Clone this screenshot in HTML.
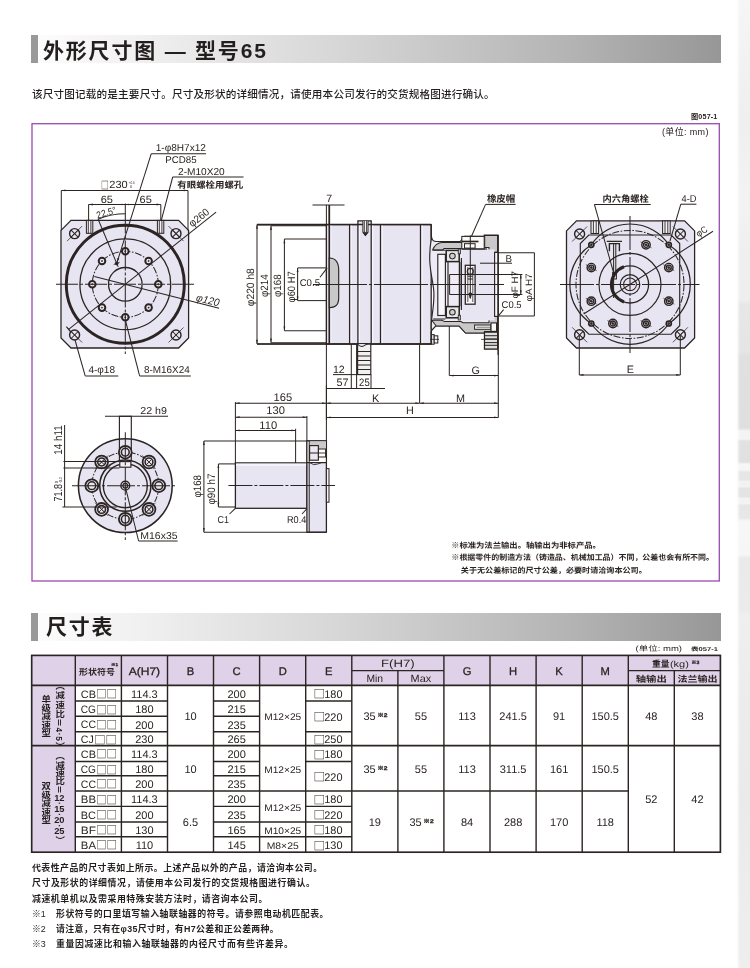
<!DOCTYPE html>
<html lang="zh-CN">
<head>
<meta charset="utf-8">
<title>外形尺寸图 — 型号65</title>
<style>
html,body{margin:0;padding:0;}
body{width:750px;height:968px;position:relative;overflow:hidden;background:#fff;
 font-family:"Liberation Sans","Noto Sans CJK SC",sans-serif;color:#2b2422;}
svg.dw{position:absolute;left:0;top:0;will-change:transform;}
.bar b,.sub,.cap1,.cap2,.ft,.vt{will-change:transform;}
svg.dw text.hv{stroke:#2b2422 !important;stroke-width:0.3px;}
svg.dw text{text-rendering:geometricPrecision;fill:#2b2422;stroke:none;font-family:"Liberation Sans","Noto Sans CJK SC",sans-serif;}
.bar{position:absolute;left:31px;width:690px;height:28px;
 background:linear-gradient(to right,#fdfdfd 0%,#f2f2f2 14%,#d6d6d6 45%,#b4b4b4 78%,#979797 100%);}
.bar i{position:absolute;left:0;top:0;width:7px;height:100%;background:#999;}
.bar b{position:absolute;left:11.6px;top:1.6px;line-height:28px;font-size:21px;font-weight:bold;color:#231f1e;white-space:nowrap;letter-spacing:1.8px;}
.strip{position:absolute;left:737px;top:0;width:13px;height:968px;background:linear-gradient(to right,rgba(255,255,255,0.85) 0,rgba(255,255,255,0) 3px),linear-gradient(to bottom,#f6f6f6 0px,#f2f2f2 60px,#efefef 120px,#f3f3f3 200px,#f0f0f0 240px,#eeeeee 300px,#e7e7e7 304px,#e5e5e5 352px,#e0e0e0 356px,#dfdfdf 428px,#f4f4f4 431px,#f4f4f4 439px,#e2e2e2 441px,#e0e0e0 462px,#f6f6f6 464px,#f6f6f6 470px,#e6e6e6 472px,#e6e6e6 480px,#f2f2f2 481px,#f2f2f2 487px,#e4e4e4 488px,#e4e4e4 497px,#f3f3f3 498px,#f3f3f3 504px,#e6e6e6 505px,#e8e8e8 518px,#f7f7f7 521px,#f6f6f6 555px,#eaeaea 558px,#ebebeb 610px,#efefef 614px,#ececec 700px,#eaeaea 800px,#ededed 900px,#eeeeee 968px);}
.frame{position:absolute;left:31.3px;top:123px;width:685.9px;height:455.9px;border:1.4px solid #a35cb7;box-sizing:content-box;}
.sub{position:absolute;font-size:10.6px;letter-spacing:0.17px;line-height:15px;font-weight:500;white-space:nowrap;color:#231f1e;}
.cap1{position:absolute;left:690.6px;top:111.7px;font-size:7.2px;letter-spacing:0.15px;line-height:10px;font-weight:bold;white-space:nowrap;}
.cap2{position:absolute;left:662.2px;top:125.6px;font-size:9px;letter-spacing:0.35px;line-height:12px;white-space:nowrap;}
.ft{position:absolute;left:32px;font-size:8.9px;line-height:14px;font-weight:bold;white-space:nowrap;color:#231f1e;}
.vt{position:absolute;width:12px;line-height:12px;writing-mode:vertical-rl;font-size:8.4px;font-weight:bold;transform:scaleX(1.12);transform-origin:50% 50%;white-space:nowrap;color:#231f1e;}
.vt span{text-combine-upright:all;-webkit-text-combine:horizontal;}
.ft .n{display:inline-block;width:24px;font-weight:500;letter-spacing:0;}
</style>
</head>
<body>
<div class="strip"></div>
<div class="bar" style="top:35px"><i></i><b>外形尺寸图 — 型号65</b></div>
<div class="bar" style="top:612.6px"><i></i><b style="left:14.6px;top:0.3px;letter-spacing:1.7px">尺寸表</b></div>
<div class="sub" style="left:31.6px;top:87px;">该尺寸图记载的是主要尺寸。尺寸及形状的详细情况，请使用本公司发行的交货规格图进行确认。</div>
<div class="cap1">图057-1</div>
<div class="cap2">(单位: mm)</div>
<div class="ft" style="top:861.2px;letter-spacing:0.5px">代表性产品的尺寸表如上所示。上述产品以外的产品，请洽询本公司。</div>
<div class="ft" style="top:876.4px;letter-spacing:0.57px">尺寸及形状的详细情况，请使用本公司发行的交货规格图进行确认。</div>
<div class="ft" style="top:891.6px;letter-spacing:0.56px">减速机单机以及需采用特殊安装方法时，请咨询本公司。</div>
<div class="ft" style="top:906.8px;letter-spacing:0.54px"><span class="n">※1</span>形状符号的口里填写输入轴联轴器的符号。请参照电动机匹配表。</div>
<div class="ft" style="top:922px;letter-spacing:0.35px"><span class="n">※2</span>请注意，只有在φ35尺寸时，有H7公差和正公差两种。</div>
<div class="ft" style="top:937.2px;letter-spacing:0.62px"><span class="n">※3</span>重量因减速比和输入轴联轴器的内径尺寸而有些许差异。</div>
<svg class="dw" width="750" height="968" viewBox="0 0 750 968" fill="none" stroke="#2b2422">
<rect x="32" y="123.7" width="687.3" height="457.3" fill="none" stroke="#9c50b3" stroke-width="1.35"/>
<path d="M71.0,220.4 L178.6,220.4 L188.6,230.4 L188.6,338.0 L178.6,348.0 L71.0,348.0 L61.0,338.0 L61.0,230.4 Z" stroke-width="1.28" fill="#e8e5f3" />
<circle cx="125.3" cy="284.3" r="59.0" stroke-width="2.94" fill="none" />
<circle cx="125.3" cy="284.3" r="45.4" stroke-width="1.28" fill="none" />
<circle cx="125.3" cy="284.3" r="33.0" stroke-width="1.02" fill="none" stroke-dasharray="7 1.6 1.6 1.6"/>
<circle cx="125.3" cy="284.3" r="16.8" stroke-width="1.28" fill="none" />
<circle cx="125.3" cy="251.3" r="3.3" stroke-width="1.98" fill="#f1eff8" />
<circle cx="125.3" cy="251.3" r="0.7" stroke-width="0.51" fill="#2b2422" />
<circle cx="102.0" cy="261.0" r="3.3" stroke-width="1.98" fill="#f1eff8" />
<circle cx="102.0" cy="261.0" r="0.7" stroke-width="0.51" fill="#2b2422" />
<circle cx="92.3" cy="284.3" r="3.3" stroke-width="1.98" fill="#f1eff8" />
<circle cx="92.3" cy="284.3" r="0.7" stroke-width="0.51" fill="#2b2422" />
<circle cx="102.0" cy="307.6" r="3.3" stroke-width="1.98" fill="#f1eff8" />
<circle cx="102.0" cy="307.6" r="0.7" stroke-width="0.51" fill="#2b2422" />
<circle cx="125.3" cy="317.3" r="3.3" stroke-width="1.98" fill="#f1eff8" />
<circle cx="125.3" cy="317.3" r="0.7" stroke-width="0.51" fill="#2b2422" />
<circle cx="148.6" cy="307.6" r="3.3" stroke-width="1.98" fill="#f1eff8" />
<circle cx="148.6" cy="307.6" r="0.7" stroke-width="0.51" fill="#2b2422" />
<circle cx="158.3" cy="284.3" r="3.3" stroke-width="1.98" fill="#f1eff8" />
<circle cx="158.3" cy="284.3" r="0.7" stroke-width="0.51" fill="#2b2422" />
<circle cx="148.6" cy="261.0" r="3.3" stroke-width="1.98" fill="#f1eff8" />
<circle cx="148.6" cy="261.0" r="0.7" stroke-width="0.51" fill="#2b2422" />
<circle cx="116.7" cy="263.4" r="1.5" stroke-width="0.77" fill="#2b2422" />
<line x1="113.7" y1="264.6" x2="119.7" y2="262.2" stroke-width="0.77" />
<circle cx="74.6" cy="233.6" r="5.0" stroke-width="1.41" fill="#e8e5f3" />
<line x1="71.1" y1="230.1" x2="78.1" y2="237.1" stroke-width="1.02" />
<line x1="71.1" y1="237.1" x2="78.1" y2="230.1" stroke-width="1.02" />
<line x1="67.1" y1="241.1" x2="82.1" y2="226.1" stroke-width="0.77" />
<circle cx="74.6" cy="335.0" r="5.0" stroke-width="1.41" fill="#e8e5f3" />
<line x1="71.1" y1="331.5" x2="78.1" y2="338.5" stroke-width="1.02" />
<line x1="71.1" y1="338.5" x2="78.1" y2="331.5" stroke-width="1.02" />
<line x1="67.1" y1="327.5" x2="82.1" y2="342.5" stroke-width="0.77" />
<circle cx="176.0" cy="233.6" r="5.0" stroke-width="1.41" fill="#e8e5f3" />
<line x1="172.5" y1="230.1" x2="179.5" y2="237.1" stroke-width="1.02" />
<line x1="172.5" y1="237.1" x2="179.5" y2="230.1" stroke-width="1.02" />
<line x1="168.5" y1="226.1" x2="183.5" y2="241.1" stroke-width="0.77" />
<circle cx="176.0" cy="335.0" r="5.0" stroke-width="1.41" fill="#e8e5f3" />
<line x1="172.5" y1="331.5" x2="179.5" y2="338.5" stroke-width="1.02" />
<line x1="172.5" y1="338.5" x2="179.5" y2="331.5" stroke-width="1.02" />
<line x1="168.5" y1="342.5" x2="183.5" y2="327.5" stroke-width="0.77" />
<rect x="86.4" y="220.4" width="6.4" height="12.9" stroke-width="1.02" fill="#f4f2f8" />
<line x1="88.3" y1="220.4" x2="88.3" y2="233.3" stroke-width="0.9" />
<line x1="90.9" y1="220.4" x2="90.9" y2="233.3" stroke-width="0.9" />
<rect x="157.4" y="220.4" width="6.4" height="12.9" stroke-width="1.02" fill="#f4f2f8" />
<line x1="159.3" y1="220.4" x2="159.3" y2="233.3" stroke-width="0.9" />
<line x1="161.9" y1="220.4" x2="161.9" y2="233.3" stroke-width="0.9" />
<line x1="56.0" y1="284.3" x2="195.0" y2="284.3" stroke-width="1.02" stroke-dasharray="22 2 3 2"/>
<line x1="125.3" y1="203.5" x2="125.3" y2="354.0" stroke-width="1.02" stroke-dasharray="30 2 3 2"/>
<line x1="61.3" y1="190.4" x2="61.3" y2="230.4" stroke-width="1.02" />
<line x1="188.0" y1="190.4" x2="188.0" y2="230.4" stroke-width="1.02" />
<line x1="61.3" y1="190.4" x2="188.0" y2="190.4" stroke-width="1.02" />
<polygon points="61.3,190.4 65.5,189.5 65.5,191.3" fill="#2b2422" stroke="none"/>
<polygon points="188.0,190.4 183.8,191.3 183.8,189.5" fill="#2b2422" stroke="none"/>
<text x="101.0" y="188.8" font-size="10.6" textLength="7.8" lengthAdjust="spacingAndGlyphs" style="font-family:'Noto Sans CJK SC',sans-serif">□</text>
<text x="109.3" y="188.4" font-size="10.5" textLength="18.4" lengthAdjust="spacingAndGlyphs" >230</text>
<text x="128.8" y="184.0" font-size="4" textLength="6.0" lengthAdjust="spacingAndGlyphs" >+0.5</text>
<text x="130.0" y="188.4" font-size="4" >0</text>
<line x1="88.6" y1="204.5" x2="88.6" y2="220.4" stroke-width="1.02" />
<line x1="160.8" y1="204.5" x2="160.8" y2="220.4" stroke-width="1.02" />
<line x1="88.6" y1="204.5" x2="160.8" y2="204.5" stroke-width="1.02" />
<polygon points="88.6,204.5 92.8,203.6 92.8,205.4" fill="#2b2422" stroke="none"/>
<polygon points="160.8,204.5 156.6,205.4 156.6,203.6" fill="#2b2422" stroke="none"/>
<polygon points="125.3,204.5 121.8,205.3 121.8,203.7" fill="#2b2422" stroke="none"/>
<polygon points="125.3,204.5 128.8,203.7 128.8,205.3" fill="#2b2422" stroke="none"/>
<text x="100.7" y="202.6" font-size="10.5" textLength="12.2" lengthAdjust="spacingAndGlyphs" >65</text>
<text x="139.6" y="202.6" font-size="10.5" textLength="12.2" lengthAdjust="spacingAndGlyphs" >65</text>
<line x1="98.0" y1="219.0" x2="118.2" y2="266.9" stroke-width="1.02" />
<path d="M98.0,219.2 A70.6,70.6 0 0 1 125.3,213.7" stroke-width="1.02" fill="none" />
<text x="97.6" y="218.4" font-size="9.5" textLength="20.0" lengthAdjust="spacingAndGlyphs" transform="rotate(-16 97.6 218.4)" >22.5°</text>
<line x1="151.3" y1="153.7" x2="206.0" y2="153.7" stroke-width="1.02" />
<line x1="151.3" y1="153.7" x2="117.1" y2="262.2" stroke-width="1.02" />
<polygon points="117.0,262.6 117.4,258.0 119.3,258.6" fill="#2b2422" stroke="none"/>
<text x="155.7" y="151.0" font-size="10" textLength="50.3" lengthAdjust="spacingAndGlyphs" >1-φ8H7x12</text>
<text x="165.3" y="162.8" font-size="9.8" textLength="31.4" lengthAdjust="spacingAndGlyphs" >PCD85</text>
<line x1="172.7" y1="177.0" x2="243.5" y2="177.0" stroke-width="1.02" />
<line x1="172.7" y1="177.0" x2="161.3" y2="220.4" stroke-width="1.02" />
<text x="178.0" y="174.8" font-size="10" textLength="46.7" lengthAdjust="spacingAndGlyphs" >2-M10X20</text>
<text x="177.3" y="187.6" font-size="9" textLength="66.0" lengthAdjust="spacingAndGlyphs" font-weight="bold" >有眼螺栓用螺孔</text>
<line x1="68.6" y1="329.4" x2="216.1" y2="212.1" stroke-width="1.02" />
<line x1="66.4" y1="326.6" x2="70.8" y2="332.2" stroke-width="1.02" />
<text x="192.2" y="227.6" font-size="10.6" textLength="23.0" lengthAdjust="spacingAndGlyphs" transform="rotate(-38.5 192.2 227.6)" >φ260</text>
<line x1="94.3" y1="276.4" x2="219.1" y2="308.2" stroke-width="1.02" />
<text x="195.6" y="300.8" font-size="10.6" textLength="23.5" lengthAdjust="spacingAndGlyphs" transform="rotate(14 195.6 300.8)" font-style="italic">φ120</text>
<line x1="75.0" y1="340.0" x2="85.2" y2="375.9" stroke-width="1.02" />
<line x1="85.2" y1="375.9" x2="118.3" y2="375.9" stroke-width="1.02" />
<text x="88.4" y="373.4" font-size="10" textLength="26.6" lengthAdjust="spacingAndGlyphs" >4-φ18</text>
<line x1="125.6" y1="321.0" x2="139.6" y2="375.9" stroke-width="1.02" />
<line x1="139.6" y1="375.9" x2="190.8" y2="375.9" stroke-width="1.02" />
<text x="143.9" y="373.4" font-size="10" textLength="45.8" lengthAdjust="spacingAndGlyphs" >8-M16X24</text>
<line x1="257.0" y1="224.6" x2="326.4" y2="224.6" stroke-width="1.15" />
<line x1="257.0" y1="344.0" x2="326.4" y2="344.0" stroke-width="1.15" />
<line x1="257.0" y1="224.6" x2="257.0" y2="344.0" stroke-width="1.02" />
<polygon points="257.0,224.6 257.9,228.8 256.1,228.8" fill="#2b2422" stroke="none"/>
<polygon points="257.0,344.0 256.1,339.8 257.9,339.8" fill="#2b2422" stroke="none"/>
<line x1="271.0" y1="225.8" x2="326.4" y2="225.8" stroke-width="1.02" />
<line x1="271.0" y1="342.8" x2="326.4" y2="342.8" stroke-width="1.02" />
<line x1="271.0" y1="225.8" x2="271.0" y2="342.8" stroke-width="1.02" />
<polygon points="271.0,225.8 271.9,230.0 270.1,230.0" fill="#2b2422" stroke="none"/>
<polygon points="271.0,342.8 270.1,338.6 271.9,338.6" fill="#2b2422" stroke="none"/>
<line x1="284.4" y1="239.0" x2="326.4" y2="239.0" stroke-width="1.02" />
<line x1="284.4" y1="330.8" x2="326.4" y2="330.8" stroke-width="1.02" />
<line x1="284.4" y1="239.0" x2="284.4" y2="330.8" stroke-width="1.02" />
<polygon points="284.4,239.0 285.3,243.2 283.5,243.2" fill="#2b2422" stroke="none"/>
<polygon points="284.4,330.8 283.5,326.6 285.3,326.6" fill="#2b2422" stroke="none"/>
<line x1="297.6" y1="267.9" x2="326.4" y2="267.9" stroke-width="1.02" />
<line x1="297.6" y1="300.6" x2="326.4" y2="300.6" stroke-width="1.02" />
<line x1="297.6" y1="267.9" x2="297.6" y2="300.6" stroke-width="1.02" />
<polygon points="297.6,267.9 298.5,272.1 296.7,272.1" fill="#2b2422" stroke="none"/>
<polygon points="297.6,300.6 296.7,296.4 298.5,296.4" fill="#2b2422" stroke="none"/>
<line x1="257.0" y1="224.6" x2="326.4" y2="224.6" stroke-width="1.66" />
<line x1="257.0" y1="344.0" x2="326.4" y2="344.0" stroke-width="1.66" />
<text x="253.6" y="306.2" font-size="10.6" textLength="38.0" lengthAdjust="spacingAndGlyphs" transform="rotate(-90 253.6 306.2)" >φ220 h8</text>
<text x="267.6" y="297.0" font-size="10.6" textLength="22.6" lengthAdjust="spacingAndGlyphs" transform="rotate(-90 267.6 297.0)" >φ214</text>
<text x="281.4" y="297.0" font-size="10.6" textLength="22.6" lengthAdjust="spacingAndGlyphs" transform="rotate(-90 281.4 297.0)" >φ168</text>
<text x="294.8" y="302.4" font-size="10.6" textLength="31.0" lengthAdjust="spacingAndGlyphs" transform="rotate(-90 294.8 302.4)" >φ60 H7</text>
<path d="M326.4,224.6 L357.9,224.6 L357.9,220.9 L371.2,220.9 L371.2,224.6 L431.2,224.6 L431.2,344.0 L326.4,344.0 Z" stroke-width="1.28" fill="#e8e5f3" />
<rect x="329.9" y="225.2" width="1.6" height="118.2" fill="#f6f4fb" stroke="none"/>
<rect x="350.2" y="225.2" width="1.6" height="118.2" fill="#f6f4fb" stroke="none"/>
<rect x="358.5" y="225.2" width="1.6" height="118.2" fill="#f6f4fb" stroke="none"/>
<rect x="371.8" y="225.2" width="1.6" height="118.2" fill="#f6f4fb" stroke="none"/>
<rect x="381.1" y="225.2" width="1.6" height="118.2" fill="#f6f4fb" stroke="none"/>
<rect x="421.1" y="225.2" width="1.6" height="118.2" fill="#f6f4fb" stroke="none"/>
<line x1="326.4" y1="205.0" x2="326.4" y2="420.0" stroke-width="1.02" />
<line x1="329.3" y1="205.0" x2="329.3" y2="344.0" stroke-width="1.66" />
<line x1="349.6" y1="224.6" x2="349.6" y2="344.0" stroke-width="1.28" />
<line x1="357.9" y1="224.6" x2="357.9" y2="344.0" stroke-width="1.28" />
<line x1="371.2" y1="224.6" x2="371.2" y2="344.0" stroke-width="1.28" />
<line x1="380.5" y1="224.6" x2="380.5" y2="344.0" stroke-width="1.28" />
<line x1="420.5" y1="224.6" x2="420.5" y2="344.0" stroke-width="1.28" />
<line x1="431.2" y1="224.6" x2="431.2" y2="238.0" stroke-width="1.28" />
<line x1="431.2" y1="331.0" x2="431.2" y2="344.0" stroke-width="1.28" />
<line x1="326.4" y1="224.6" x2="431.2" y2="224.6" stroke-width="1.54" />
<line x1="326.4" y1="344.0" x2="431.2" y2="344.0" stroke-width="1.54" />
<path d="M362.9,220.9 L362.9,232.4 L365.4,235.4 L368,232.4 L368,220.9" stroke-width="1.02" fill="#f4f2f8" />
<line x1="364.4" y1="220.9" x2="364.4" y2="232.4" stroke-width="0.77" />
<line x1="366.5" y1="220.9" x2="366.5" y2="232.4" stroke-width="0.77" />
<path d="M363.4,232.4 L365.4,235.6 L367.5,232.4 Z" stroke-width="0.77" fill="#2b2422" />
<path d="M329.3,258.0 C336.5,258.2 338.9,263 338.7,271 L338.7,297 C338.9,304 336.5,307.4 329.3,307.6 Z" stroke-width="1.15" fill="#c9c9c9" />
<text x="299.7" y="286.2" font-size="9.8" textLength="20.3" lengthAdjust="spacingAndGlyphs" >C0.5</text>
<line x1="320.0" y1="277.2" x2="327.2" y2="267.9" stroke-width="1.02" />
<line x1="312.5" y1="205.0" x2="344.5" y2="205.0" stroke-width="1.02" />
<line x1="329.3" y1="205.0" x2="329.3" y2="224.6" stroke-width="1.02" />
<text x="329.2" y="202.2" font-size="10.6" text-anchor="middle" >7</text>
<line x1="313.0" y1="284.5" x2="432.0" y2="284.5" stroke-width="1.02" stroke-dasharray="54 2 3 2"/>
<rect x="357.6" y="344.0" width="13.2" height="30.6" stroke-width="1.15" fill="#f1f1f1" />
<path d="M357.6,344.0 q3,4 6.6,1.6 q3,-2.4 6.6,-1.6" stroke-width="1.02" fill="#e8e5f3" />
<line x1="357.6" y1="351.5" x2="370.8" y2="351.5" stroke-width="1.02" />
<line x1="357.6" y1="356.0" x2="370.8" y2="356.0" stroke-width="1.02" />
<line x1="357.6" y1="360.5" x2="370.8" y2="360.5" stroke-width="1.02" />
<line x1="357.6" y1="365.0" x2="370.8" y2="365.0" stroke-width="1.02" />
<line x1="357.6" y1="369.5" x2="370.8" y2="369.5" stroke-width="1.02" />
<line x1="351.3" y1="344.0" x2="351.3" y2="388.4" stroke-width="1.02" />
<line x1="356.6" y1="344.0" x2="356.6" y2="388.4" stroke-width="1.02" />
<line x1="371.0" y1="374.6" x2="371.0" y2="388.4" stroke-width="1.02" />
<line x1="333.0" y1="374.6" x2="357.2" y2="374.6" stroke-width="1.02" />
<text x="338.8" y="373.0" font-size="10.6" text-anchor="middle" >12</text>
<line x1="326.4" y1="388.4" x2="385.0" y2="388.4" stroke-width="1.02" />
<text x="342.4" y="386.4" font-size="10.8" text-anchor="middle" >57</text>
<text x="364.4" y="386.2" font-size="10.8" textLength="10.6" lengthAdjust="spacingAndGlyphs" text-anchor="middle" >25</text>
<line x1="419.6" y1="344.0" x2="419.6" y2="403.0" stroke-width="1.02" />
<line x1="498.3" y1="350.0" x2="498.3" y2="417.4" stroke-width="1.02" />
<line x1="235.4" y1="403.2" x2="326.4" y2="403.2" stroke-width="1.02" />
<polygon points="235.4,403.2 239.6,402.3 239.6,404.1" fill="#2b2422" stroke="none"/>
<polygon points="326.4,403.2 322.2,404.1 322.2,402.3" fill="#2b2422" stroke="none"/>
<line x1="326.4" y1="403.2" x2="419.6" y2="403.2" stroke-width="1.02" />
<polygon points="326.4,403.2 330.6,402.3 330.6,404.1" fill="#2b2422" stroke="none"/>
<polygon points="419.6,403.2 415.4,404.1 415.4,402.3" fill="#2b2422" stroke="none"/>
<line x1="419.6" y1="403.2" x2="498.3" y2="403.2" stroke-width="1.02" />
<polygon points="419.6,403.2 423.8,402.3 423.8,404.1" fill="#2b2422" stroke="none"/>
<polygon points="498.3,403.2 494.1,404.1 494.1,402.3" fill="#2b2422" stroke="none"/>
<line x1="326.4" y1="417.4" x2="498.3" y2="417.4" stroke-width="1.02" />
<polygon points="326.4,417.4 330.6,416.5 330.6,418.3" fill="#2b2422" stroke="none"/>
<polygon points="498.3,417.4 494.1,418.3 494.1,416.5" fill="#2b2422" stroke="none"/>
<text x="375.6" y="401.5" font-size="10.8" text-anchor="middle" >K</text>
<text x="460.5" y="401.5" font-size="10.8" text-anchor="middle" >M</text>
<text x="410.0" y="414.4" font-size="10.8" text-anchor="middle" >H</text>
<line x1="449.3" y1="262.0" x2="449.3" y2="375.6" stroke-width="1.02" />
<line x1="449.3" y1="375.6" x2="498.3" y2="375.6" stroke-width="1.02" />
<polygon points="449.3,375.6 453.5,374.7 453.5,376.5" fill="#2b2422" stroke="none"/>
<polygon points="498.3,375.6 494.1,376.5 494.1,374.7" fill="#2b2422" stroke="none"/>
<text x="475.6" y="373.8" font-size="10.8" text-anchor="middle" >G</text>
<path d="M431.6,237 Q432,241.5 436.5,241.5 L460.2,241.5 L464.5,236.2 L484.2,236.2 L484.2,235.1 L498.1,235.1 L498.1,349 L484.5,349 L484.5,333 L465.5,333 L459.1,326 L435.7,326 L431.6,330.5 C429.5,322 435.5,305 433.6,289 C432,275 427,262 431.6,237 Z" stroke-width="1.15" fill="#eeebf6" />
<path d="M432.6,250 Q435.5,243.2 441.5,242.6 L462.3,242.6 L462.3,248.6 L444,248.6 L442.5,250 Z" stroke-width="1.02" fill="#c9c9c9" />
<path d="M484.7,235.6 L497.6,235.6 L497.6,252.2 L489.0,252.2 L489.0,247.4 L484.7,247.4 Z" stroke-width="1.02" fill="#c9c9c9" />
<rect x="477.3" y="243.7" width="6.6" height="4.6" stroke-width="0.9" fill="#c9c9c9" />
<path d="M431.8,320.2 L442,320.2 L444.6,321.6 L461,321.6 L463,322.8 L489,322.8 L489,316.5 L497.6,316.5 L497.6,331.6 L484.4,331.6 L484.4,333 L465.5,333 L459.1,326 L436.2,326 Z" stroke-width="1.02" fill="#c9c9c9" />
<rect x="461.8" y="249.4" width="32.8" height="71.0" stroke-width="0.0" fill="#e8e5f3" stroke="none"/>
<rect x="494.6" y="252.4" width="3.5" height="64.0" stroke-width="1.15" fill="#f7f6fa" />
<rect x="461.8" y="236.4" width="22.4" height="12.6" stroke-width="1.02" fill="#fafafa" />
<line x1="461.8" y1="241.5" x2="478.5" y2="241.5" stroke-width="1.66" />
<rect x="464.5" y="243.7" width="10.6" height="4.4" stroke-width="1.02" fill="#fff" />
<line x1="461.8" y1="249.0" x2="487.0" y2="249.0" stroke-width="1.15" />
<rect x="437.8" y="254.3" width="7.6" height="61.2" stroke-width="1.15" fill="#f6f5fa" />
<line x1="433.2" y1="250.2" x2="445.4" y2="250.2" stroke-width="1.02" />
<line x1="433.2" y1="319.0" x2="445.4" y2="319.0" stroke-width="1.02" />
<rect x="446.2" y="250.4" width="13.0" height="11.2" stroke-width="1.54" fill="#e8e8e8" />
<circle cx="452.4" cy="256.1" r="2.8" stroke-width="1.02" fill="#cfcfcf" />
<rect x="446.2" y="306.6" width="13.0" height="11.2" stroke-width="1.54" fill="#e8e8e8" />
<circle cx="452.4" cy="312.3" r="2.8" stroke-width="1.02" fill="#cfcfcf" />
<rect x="458.2" y="249.0" width="2.2" height="4.8" stroke-width="0.77" fill="#bbb" />
<rect x="458.2" y="315.2" width="2.2" height="4.8" stroke-width="0.77" fill="#bbb" />
<line x1="448.0" y1="261.8" x2="448.0" y2="306.4" stroke-width="1.15" />
<line x1="459.6" y1="261.8" x2="459.6" y2="306.4" stroke-width="1.66" />
<line x1="461.4" y1="258.0" x2="461.4" y2="310.0" stroke-width="1.15" />
<rect x="465.3" y="265.3" width="9.8" height="38.9" stroke-width="1.28" fill="#f6f5fa" />
<line x1="467.8" y1="267.0" x2="467.8" y2="302.0" stroke-width="0.77" />
<line x1="472.8" y1="267.0" x2="472.8" y2="302.0" stroke-width="0.77" />
<circle cx="470.3" cy="271.4" r="3.0" stroke-width="1.15" fill="none" />
<line x1="467.8" y1="276.2" x2="472.8" y2="276.2" stroke-width="1.02" />
<line x1="467.8" y1="279.0" x2="472.8" y2="279.0" stroke-width="1.02" />
<path d="M469.0,293.6 L471.6,293.6 L470.3,298.4 Z" stroke-width="0.9" fill="#2b2422" />
<circle cx="470.3" cy="294.0" r="1.3" stroke-width="0.64" fill="#2b2422" />
<line x1="470.3" y1="235.4" x2="470.3" y2="298.0" stroke-width="1.02" />
<line x1="431.5" y1="284.5" x2="476.0" y2="284.5" stroke-width="1.02" />
<line x1="479.0" y1="284.5" x2="504.0" y2="284.5" stroke-width="1.02" />
<line x1="449.6" y1="274.4" x2="522.4" y2="274.4" stroke-width="1.02" />
<line x1="449.6" y1="294.4" x2="522.4" y2="294.4" stroke-width="1.02" />
<line x1="449.6" y1="274.4" x2="449.6" y2="294.4" stroke-width="1.02" />
<line x1="520.8" y1="274.4" x2="520.8" y2="294.4" stroke-width="1.02" />
<polygon points="520.8,274.4 521.7,278.6 519.9,278.6" fill="#2b2422" stroke="none"/>
<polygon points="520.8,294.4 519.9,290.2 521.7,290.2" fill="#2b2422" stroke="none"/>
<line x1="498.4" y1="252.8" x2="534.4" y2="252.8" stroke-width="1.02" />
<line x1="498.4" y1="316.0" x2="534.4" y2="316.0" stroke-width="1.02" />
<line x1="534.4" y1="252.8" x2="534.4" y2="316.0" stroke-width="1.02" />
<line x1="480.0" y1="263.2" x2="512.0" y2="263.2" stroke-width="1.02" />
<text x="508.8" y="261.6" font-size="9.8" text-anchor="middle" >B</text>
<text x="518.4" y="298.6" font-size="9.3" textLength="27.5" lengthAdjust="spacingAndGlyphs" transform="rotate(-90 518.4 298.6)" >φF H7</text>
<text x="531.8" y="301.4" font-size="9.3" textLength="28.0" lengthAdjust="spacingAndGlyphs" transform="rotate(-90 531.8 301.4)" >φA H7</text>
<text x="501.6" y="308.0" font-size="9.8" textLength="20.0" lengthAdjust="spacingAndGlyphs" >C0.5</text>
<line x1="498.6" y1="315.6" x2="503.6" y2="309.6" stroke-width="1.02" />
<rect x="474.6" y="325.0" width="16.4" height="4.3" stroke-width="1.02" fill="#fafafa" />
<rect x="491.0" y="322.9" width="5.6" height="8.5" stroke-width="1.15" fill="#fafafa" />
<line x1="476.5" y1="327.2" x2="491.0" y2="327.2" stroke-width="0.64" />
<rect x="484.5" y="332.2" width="13.1" height="16.8" stroke-width="1.15" fill="#e0e0e0" />
<line x1="484.5" y1="335.7" x2="497.6" y2="335.7" stroke-width="1.02" />
<line x1="484.5" y1="338.9" x2="497.6" y2="338.9" stroke-width="1.02" />
<line x1="484.5" y1="342.6" x2="497.6" y2="342.6" stroke-width="1.02" />
<line x1="484.5" y1="345.3" x2="497.6" y2="345.3" stroke-width="1.02" />
<line x1="481.0" y1="339.4" x2="498.8" y2="339.4" stroke-width="0.77" />
<line x1="498.1" y1="235.1" x2="498.1" y2="355.0" stroke-width="1.15" />
<rect x="431.6" y="334.6" width="2.6" height="9.6" stroke-width="1.02" fill="#f4f4f4" />
<rect x="434.2" y="335.8" width="3.6" height="7.2" stroke-width="1.02" fill="#f4f4f4" />
<line x1="430.0" y1="339.4" x2="439.0" y2="339.4" stroke-width="0.77" />
<line x1="471.6" y1="236.0" x2="485.6" y2="204.4" stroke-width="1.02" />
<line x1="485.6" y1="204.4" x2="515.6" y2="204.4" stroke-width="1.02" />
<text x="486.9" y="202.0" font-size="9.3" textLength="28.4" lengthAdjust="spacingAndGlyphs" font-weight="bold" >橡皮帽</text>
<path d="M576.5,220.9 L684.6,220.9 L694.6,230.9 L694.6,338.0 L684.6,348.0 L576.5,348.0 L566.5,338.0 L566.5,230.9 Z" stroke-width="1.28" fill="#e8e5f3" />
<path d="M588.8,235.0 L671.2,235.0 L679.7,243.5 L679.7,325.7 L671.2,334.2 L588.8,334.2 L580.3,325.7 L580.3,243.5 Z" stroke-width="1.15" fill="#e8e5f3" />
<path d="M591.3,244.8 A46.5,46.5 0 0 1 668.8,244.8 A46.8,46.8 0 0 1 668.8,323.5 A46.5,46.5 0 0 1 591.3,323.5 A46.8,46.8 0 0 1 591.3,244.8" stroke-width="1.22" fill="none" />
<circle cx="630.0" cy="284.4" r="54.0" stroke-width="1.02" fill="none" stroke-dasharray="7 1.6 1.6 1.6"/>
<circle cx="630.0" cy="284.4" r="31.0" stroke-width="1.15" fill="none" />
<circle cx="630.0" cy="284.4" r="18.6" stroke-width="1.28" fill="none" />
<path d="M624.0,266.79999999999995 A18.6,18.6 0 0 0 624.0,302.0" stroke-width="3.07" fill="none" />
<circle cx="630.0" cy="284.4" r="9.8" stroke-width="1.15" fill="none" />
<circle cx="630.0" cy="284.4" r="6.4" stroke-width="1.02" fill="none" />
<circle cx="579.6" cy="234.0" r="5.0" stroke-width="1.41" fill="#e8e5f3" />
<line x1="576.1" y1="230.5" x2="583.1" y2="237.5" stroke-width="1.02" />
<line x1="576.1" y1="237.5" x2="583.1" y2="230.5" stroke-width="1.02" />
<line x1="572.1" y1="241.5" x2="587.1" y2="226.5" stroke-width="0.77" />
<circle cx="579.6" cy="334.8" r="5.0" stroke-width="1.41" fill="#e8e5f3" />
<line x1="576.1" y1="331.3" x2="583.1" y2="338.3" stroke-width="1.02" />
<line x1="576.1" y1="338.3" x2="583.1" y2="331.3" stroke-width="1.02" />
<line x1="572.1" y1="327.3" x2="587.1" y2="342.3" stroke-width="0.77" />
<circle cx="680.4" cy="234.0" r="5.0" stroke-width="1.41" fill="#e8e5f3" />
<line x1="676.9" y1="230.5" x2="683.9" y2="237.5" stroke-width="1.02" />
<line x1="676.9" y1="237.5" x2="683.9" y2="230.5" stroke-width="1.02" />
<line x1="672.9" y1="226.5" x2="687.9" y2="241.5" stroke-width="0.77" />
<circle cx="680.4" cy="334.8" r="5.0" stroke-width="1.41" fill="#e8e5f3" />
<line x1="676.9" y1="331.3" x2="683.9" y2="338.3" stroke-width="1.02" />
<line x1="676.9" y1="338.3" x2="683.9" y2="331.3" stroke-width="1.02" />
<line x1="672.9" y1="342.3" x2="687.9" y2="327.3" stroke-width="0.77" />
<rect x="591.0" y="220.9" width="7.6" height="12.6" stroke-width="1.02" fill="#f4f2f8" />
<line x1="593.4" y1="220.9" x2="593.4" y2="233.5" stroke-width="0.9" />
<line x1="596.2" y1="220.9" x2="596.2" y2="233.5" stroke-width="0.9" />
<rect x="662.6" y="220.9" width="7.6" height="12.6" stroke-width="1.02" fill="#f4f2f8" />
<line x1="665.0" y1="220.9" x2="665.0" y2="233.5" stroke-width="0.9" />
<line x1="667.8" y1="220.9" x2="667.8" y2="233.5" stroke-width="0.9" />
<circle cx="591.3" cy="244.8" r="2.6" stroke-width="1.54" fill="#aaa" />
<circle cx="591.3" cy="244.8" r="1.0" stroke-width="0.64" fill="#2b2422" />
<circle cx="591.3" cy="267.6" r="4.2" stroke-width="1.41" fill="#e8e5f3" />
<circle cx="591.3" cy="267.6" r="2.5" stroke-width="1.28" fill="none" />
<circle cx="591.3" cy="267.6" r="1.0" stroke-width="0.77" fill="#2b2422" />
<line x1="585.8" y1="264.6" x2="596.8" y2="270.6" stroke-width="0.64" />
<circle cx="591.3" cy="301.2" r="4.2" stroke-width="1.41" fill="#e8e5f3" />
<circle cx="591.3" cy="301.2" r="2.5" stroke-width="1.28" fill="none" />
<circle cx="591.3" cy="301.2" r="1.0" stroke-width="0.77" fill="#2b2422" />
<line x1="585.8" y1="298.2" x2="596.8" y2="304.2" stroke-width="0.64" />
<circle cx="591.3" cy="323.5" r="2.6" stroke-width="1.54" fill="#aaa" />
<circle cx="591.3" cy="323.5" r="1.0" stroke-width="0.64" fill="#2b2422" />
<circle cx="612.9" cy="323.5" r="4.2" stroke-width="1.41" fill="#e8e5f3" />
<circle cx="612.9" cy="323.5" r="2.5" stroke-width="1.28" fill="none" />
<circle cx="612.9" cy="323.5" r="1.0" stroke-width="0.77" fill="#2b2422" />
<line x1="607.4" y1="320.5" x2="618.4" y2="326.5" stroke-width="0.64" />
<circle cx="646.0" cy="244.8" r="4.2" stroke-width="1.41" fill="#e8e5f3" />
<circle cx="646.0" cy="244.8" r="2.5" stroke-width="1.28" fill="none" />
<circle cx="646.0" cy="244.8" r="1.0" stroke-width="0.77" fill="#2b2422" />
<line x1="640.5" y1="241.8" x2="651.5" y2="247.8" stroke-width="0.64" />
<circle cx="646.0" cy="323.5" r="4.2" stroke-width="1.41" fill="#e8e5f3" />
<circle cx="646.0" cy="323.5" r="2.5" stroke-width="1.28" fill="none" />
<circle cx="646.0" cy="323.5" r="1.0" stroke-width="0.77" fill="#2b2422" />
<line x1="640.5" y1="320.5" x2="651.5" y2="326.5" stroke-width="0.64" />
<circle cx="668.8" cy="244.8" r="2.6" stroke-width="1.54" fill="#aaa" />
<circle cx="668.8" cy="244.8" r="1.0" stroke-width="0.64" fill="#2b2422" />
<circle cx="668.8" cy="267.6" r="4.2" stroke-width="1.41" fill="#e8e5f3" />
<circle cx="668.8" cy="267.6" r="2.5" stroke-width="1.28" fill="none" />
<circle cx="668.8" cy="267.6" r="1.0" stroke-width="0.77" fill="#2b2422" />
<line x1="663.3" y1="264.6" x2="674.3" y2="270.6" stroke-width="0.64" />
<circle cx="668.8" cy="301.2" r="4.2" stroke-width="1.41" fill="#e8e5f3" />
<circle cx="668.8" cy="301.2" r="2.5" stroke-width="1.28" fill="none" />
<circle cx="668.8" cy="301.2" r="1.0" stroke-width="0.77" fill="#2b2422" />
<line x1="663.3" y1="298.2" x2="674.3" y2="304.2" stroke-width="0.64" />
<circle cx="668.8" cy="323.5" r="2.6" stroke-width="1.54" fill="#aaa" />
<circle cx="668.8" cy="323.5" r="1.0" stroke-width="0.64" fill="#2b2422" />
<path d="M606.8,241.4 L622,241.4 M609.4,251.2 L609.4,243.6 L619.4,243.6 L619.4,251.2" stroke-width="1.41" fill="none" />
<line x1="613.6" y1="243.6" x2="613.6" y2="298.0" stroke-width="1.02" />
<line x1="615.8" y1="243.6" x2="615.8" y2="272.0" stroke-width="1.02" />
<rect x="612.6" y="272.6" width="3.8" height="6.4" stroke-width="1.02" fill="none" />
<line x1="560.0" y1="284.4" x2="699.5" y2="284.4" stroke-width="1.02" stroke-dasharray="34 2 3 2"/>
<line x1="630.0" y1="216.0" x2="630.0" y2="353.0" stroke-width="1.02" stroke-dasharray="34 2 3 2"/>
<line x1="583.7" y1="314.0" x2="713.0" y2="231.3" stroke-width="1.02" />
<text x="698.6" y="237.2" font-size="9.5" textLength="11.5" lengthAdjust="spacingAndGlyphs" transform="rotate(-33 698.6 237.2)" >φC</text>
<line x1="594.4" y1="204.4" x2="650.7" y2="204.4" stroke-width="1.02" />
<line x1="594.4" y1="204.4" x2="614.7" y2="276.7" stroke-width="1.02" />
<text x="602.4" y="202.0" font-size="9.2" textLength="46.3" lengthAdjust="spacingAndGlyphs" font-weight="bold" >内六角螺栓</text>
<line x1="680.8" y1="204.2" x2="696.4" y2="204.2" stroke-width="1.02" />
<line x1="680.8" y1="204.2" x2="670.0" y2="241.0" stroke-width="1.02" />
<text x="681.5" y="202.0" font-size="10" textLength="14.9" lengthAdjust="spacingAndGlyphs" >4-D</text>
<line x1="579.3" y1="336.0" x2="579.3" y2="375.0" stroke-width="1.02" />
<line x1="680.3" y1="336.0" x2="680.3" y2="375.0" stroke-width="1.02" />
<line x1="579.3" y1="374.9" x2="680.3" y2="374.9" stroke-width="1.02" />
<polygon points="579.3,374.9 583.5,374.0 583.5,375.8" fill="#2b2422" stroke="none"/>
<polygon points="680.3,374.9 676.1,375.8 676.1,374.0" fill="#2b2422" stroke="none"/>
<text x="630.4" y="373.0" font-size="10.8" text-anchor="middle" >E</text>
<circle cx="125.3" cy="485.7" r="46.9" stroke-width="1.54" fill="#e8e5f3" />
<circle cx="125.3" cy="485.7" r="33.5" stroke-width="1.02" fill="none" stroke-dasharray="6 1.6 1.6 1.6"/>
<rect x="119.4" y="416.3" width="11.9" height="50.4" stroke-width="1.15" fill="none" />
<circle cx="125.3" cy="485.7" r="25.6" stroke-width="1.54" fill="#e8e5f3" />
<circle cx="125.3" cy="485.7" r="22.0" stroke-width="1.41" fill="none" />
<rect x="119.8" y="461.6" width="11.1" height="5.6" stroke-width="1.15" fill="#f4f2f8" />
<circle cx="125.3" cy="452.2" r="6.4" stroke-width="1.79" fill="#e8e5f3" />
<circle cx="125.3" cy="452.2" r="3.9" stroke-width="1.54" fill="none" />
<circle cx="101.6" cy="462.0" r="6.4" stroke-width="1.79" fill="#e8e5f3" />
<circle cx="101.6" cy="462.0" r="3.9" stroke-width="1.54" fill="none" />
<line x1="98.8" y1="459.2" x2="104.4" y2="464.8" stroke-width="0.9" />
<line x1="98.8" y1="464.8" x2="104.4" y2="459.2" stroke-width="0.9" />
<line x1="95.0" y1="468.7" x2="108.3" y2="455.4" stroke-width="0.64" />
<circle cx="91.8" cy="485.7" r="6.4" stroke-width="1.79" fill="#e8e5f3" />
<circle cx="91.8" cy="485.7" r="3.9" stroke-width="1.54" fill="none" />
<circle cx="101.6" cy="509.4" r="6.4" stroke-width="1.79" fill="#e8e5f3" />
<circle cx="101.6" cy="509.4" r="3.9" stroke-width="1.54" fill="none" />
<line x1="98.8" y1="506.6" x2="104.4" y2="512.2" stroke-width="0.9" />
<line x1="98.8" y1="512.2" x2="104.4" y2="506.6" stroke-width="0.9" />
<line x1="95.0" y1="502.7" x2="108.3" y2="516.0" stroke-width="0.64" />
<circle cx="125.3" cy="519.2" r="6.4" stroke-width="1.79" fill="#e8e5f3" />
<circle cx="125.3" cy="519.2" r="3.9" stroke-width="1.54" fill="none" />
<circle cx="149.0" cy="509.4" r="6.4" stroke-width="1.79" fill="#e8e5f3" />
<circle cx="149.0" cy="509.4" r="3.9" stroke-width="1.54" fill="none" />
<line x1="146.2" y1="506.6" x2="151.8" y2="512.2" stroke-width="0.9" />
<line x1="146.2" y1="512.2" x2="151.8" y2="506.6" stroke-width="0.9" />
<line x1="142.3" y1="516.0" x2="155.6" y2="502.7" stroke-width="0.64" />
<circle cx="158.8" cy="485.7" r="6.4" stroke-width="1.79" fill="#e8e5f3" />
<circle cx="158.8" cy="485.7" r="3.9" stroke-width="1.54" fill="none" />
<circle cx="149.0" cy="462.0" r="6.4" stroke-width="1.79" fill="#e8e5f3" />
<circle cx="149.0" cy="462.0" r="3.9" stroke-width="1.54" fill="none" />
<line x1="146.2" y1="459.2" x2="151.8" y2="464.8" stroke-width="0.9" />
<line x1="146.2" y1="464.8" x2="151.8" y2="459.2" stroke-width="0.9" />
<line x1="142.3" y1="455.4" x2="155.6" y2="468.7" stroke-width="0.64" />
<circle cx="125.3" cy="485.7" r="4.4" stroke-width="1.41" fill="#e8e5f3" />
<circle cx="125.3" cy="485.7" r="2.4" stroke-width="1.15" fill="none" />
<line x1="72.0" y1="485.7" x2="176.5" y2="485.7" stroke-width="1.02" stroke-dasharray="28 2 3 2"/>
<line x1="125.3" y1="432.3" x2="125.3" y2="540.0" stroke-width="1.02" stroke-dasharray="28 2 3 2"/>
<line x1="105.0" y1="416.3" x2="168.0" y2="416.3" stroke-width="1.02" />
<text x="140.3" y="413.8" font-size="10" textLength="26.7" lengthAdjust="spacingAndGlyphs" >22 h9</text>
<line x1="64.6" y1="424.9" x2="64.6" y2="507.0" stroke-width="1.02" />
<line x1="63.4" y1="461.4" x2="119.4" y2="461.4" stroke-width="1.02" />
<line x1="63.4" y1="468.0" x2="119.4" y2="468.0" stroke-width="1.02" />
<line x1="62.4" y1="507.0" x2="116.8" y2="507.0" stroke-width="1.02" />
<text x="61.6" y="454.7" font-size="11.4" textLength="29.4" lengthAdjust="spacingAndGlyphs" transform="rotate(-90 61.6 454.7)" >14 h11</text>
<text x="61.6" y="501.4" font-size="11.4" textLength="17.5" lengthAdjust="spacingAndGlyphs" transform="rotate(-90 61.6 501.4)" >71.8</text>
<text x="57.6" y="483.2" font-size="4.4" transform="rotate(-90 57.6 483.2)" >0</text>
<text x="61.6" y="483.2" font-size="4.4" textLength="6.4" lengthAdjust="spacingAndGlyphs" transform="rotate(-90 61.6 483.2)" >-0.2</text>
<line x1="125.3" y1="486.7" x2="138.6" y2="541.0" stroke-width="1.02" />
<line x1="138.6" y1="541.0" x2="177.6" y2="541.0" stroke-width="1.02" />
<text x="140.3" y="538.6" font-size="10" textLength="37.3" lengthAdjust="spacingAndGlyphs" >M16x35</text>
<rect x="235.4" y="462.9" width="71.5" height="45.4" stroke-width="1.28" fill="#e8e5f3" />
<rect x="236" y="463.6" width="70.4" height="2.2" fill="#f6f4fb" stroke="none"/>
<rect x="306.9" y="440.9" width="19.5" height="91.3" stroke-width="1.28" fill="#e8e5f3" />
<rect x="306.9" y="440.9" width="19.5" height="21.7" stroke-width="1.15" fill="#fff" />
<rect x="309.6" y="441.4" width="16.3" height="4.4" stroke-width="0.0" fill="#c9c9c9" stroke="none"/>
<rect x="318.4" y="445.6" width="7.6" height="3.2" fill="#c9c9c9" stroke="none"/>
<rect x="309.6" y="445.6" width="8.8" height="14.6" stroke-width="1.15" fill="#ebe8f3" />
<line x1="309.6" y1="453.0" x2="318.4" y2="453.0" stroke-width="1.02" />
<rect x="318.4" y="449.0" width="7.2" height="8.0" stroke-width="1.02" fill="#fff" />
<line x1="318.4" y1="453.0" x2="325.6" y2="453.0" stroke-width="0.9" />
<path d="M309.6,462.6 q4,3.4 8,1.4 q4,-2 8,-1.4" stroke-width="0.9" fill="none" />
<line x1="309.2" y1="440.9" x2="309.2" y2="532.2" stroke-width="1.02" />
<rect x="326.4" y="468.6" width="2.6" height="33.6" stroke-width="1.02" fill="#f4f2f8" />
<line x1="228.4" y1="485.6" x2="335.0" y2="485.6" stroke-width="1.02" stroke-dasharray="24 2 3 2"/>
<line x1="235.4" y1="402.0" x2="235.4" y2="462.9" stroke-width="1.02" />
<line x1="295.6" y1="428.7" x2="295.6" y2="462.9" stroke-width="1.02" />
<line x1="306.9" y1="416.0" x2="306.9" y2="441.0" stroke-width="1.02" />
<line x1="326.4" y1="385.0" x2="326.4" y2="441.0" stroke-width="1.02" />
<line x1="235.4" y1="417.2" x2="306.9" y2="417.2" stroke-width="1.02" />
<polygon points="235.4,417.2 239.6,416.3 239.6,418.1" fill="#2b2422" stroke="none"/>
<polygon points="306.9,417.2 302.7,418.1 302.7,416.3" fill="#2b2422" stroke="none"/>
<line x1="235.4" y1="430.4" x2="295.6" y2="430.4" stroke-width="1.02" />
<polygon points="235.4,430.4 239.6,429.5 239.6,431.3" fill="#2b2422" stroke="none"/>
<polygon points="295.6,430.4 291.4,431.3 291.4,429.5" fill="#2b2422" stroke="none"/>
<text x="273.6" y="401.4" font-size="11" textLength="18.6" lengthAdjust="spacingAndGlyphs" >165</text>
<text x="266.3" y="414.2" font-size="11" textLength="18.6" lengthAdjust="spacingAndGlyphs" >130</text>
<text x="259.3" y="428.9" font-size="11" textLength="17.8" lengthAdjust="spacingAndGlyphs" >110</text>
<line x1="203.9" y1="440.9" x2="306.9" y2="440.9" stroke-width="1.02" />
<line x1="203.9" y1="532.2" x2="326.4" y2="532.2" stroke-width="1.02" />
<line x1="203.9" y1="440.9" x2="203.9" y2="532.2" stroke-width="1.02" />
<polygon points="203.9,440.9 204.8,445.1 203.0,445.1" fill="#2b2422" stroke="none"/>
<polygon points="203.9,532.2 203.0,528.0 204.8,528.0" fill="#2b2422" stroke="none"/>
<line x1="218.4" y1="463.9" x2="235.4" y2="463.9" stroke-width="1.02" />
<line x1="218.4" y1="507.0" x2="235.4" y2="507.0" stroke-width="1.02" />
<line x1="218.4" y1="463.9" x2="218.4" y2="507.0" stroke-width="1.02" />
<polygon points="218.4,463.9 219.3,468.1 217.5,468.1" fill="#2b2422" stroke="none"/>
<polygon points="218.4,507.0 217.5,502.8 219.3,502.8" fill="#2b2422" stroke="none"/>
<text x="201.4" y="497.6" font-size="10.8" textLength="22.6" lengthAdjust="spacingAndGlyphs" transform="rotate(-90 201.4 497.6)" >φ168</text>
<text x="215.2" y="504.6" font-size="10.8" textLength="31.0" lengthAdjust="spacingAndGlyphs" transform="rotate(-90 215.2 504.6)" >φ90 h7</text>
<line x1="229.5" y1="514.0" x2="235.4" y2="508.3" stroke-width="1.02" />
<text x="217.6" y="523.4" font-size="10" textLength="11.5" lengthAdjust="spacingAndGlyphs" >C1</text>
<line x1="302.0" y1="514.0" x2="307.0" y2="508.7" stroke-width="1.02" />
<text x="287.0" y="523.4" font-size="10" textLength="19.3" lengthAdjust="spacingAndGlyphs" >R0.4</text>
<text x="451.2" y="548.0" font-size="8.2" font-weight="bold" >※</text>
<text x="459.4" y="547.8" font-size="7.7" textLength="141.5" lengthAdjust="spacingAndGlyphs" font-weight="bold" >标准为法兰输出。轴输出为非标产品。</text>
<text x="451.2" y="560.4" font-size="8.2" font-weight="bold" >※</text>
<text x="459.4" y="560.2" font-size="7.7" textLength="254.6" lengthAdjust="spacingAndGlyphs" font-weight="bold" >根据零件的制造方法（铸造品、机械加工品）不同，公差也会有所不同。</text>
<text x="460.8" y="573.0" font-size="7.7" textLength="186.0" lengthAdjust="spacingAndGlyphs" font-weight="bold" >关于无公差标记的尺寸公差，必要时请洽询本公司。</text>
<rect x="31.7" y="655.4" width="688.7" height="30.0" fill="#dfd2e8" stroke="none"/>
<rect x="31.7" y="685.4" width="43.6" height="166.8" fill="#dfd2e8" stroke="none"/>
<rect x="31.7" y="655.4" width="688.7" height="196.8" stroke-width="1.66" fill="none" />
<line x1="75.3" y1="655.4" x2="75.3" y2="685.4" stroke-width="1.41" />
<line x1="121.4" y1="655.4" x2="121.4" y2="685.4" stroke-width="1.41" />
<line x1="167.5" y1="655.4" x2="167.5" y2="685.4" stroke-width="1.41" />
<line x1="213.5" y1="655.4" x2="213.5" y2="685.4" stroke-width="1.41" />
<line x1="259.6" y1="655.4" x2="259.6" y2="685.4" stroke-width="1.41" />
<line x1="305.7" y1="655.4" x2="305.7" y2="685.4" stroke-width="1.41" />
<line x1="351.8" y1="655.4" x2="351.8" y2="685.4" stroke-width="1.41" />
<line x1="397.9" y1="670.6" x2="397.9" y2="685.4" stroke-width="1.41" />
<line x1="443.9" y1="655.4" x2="443.9" y2="685.4" stroke-width="1.41" />
<line x1="490.0" y1="655.4" x2="490.0" y2="685.4" stroke-width="1.41" />
<line x1="536.1" y1="655.4" x2="536.1" y2="685.4" stroke-width="1.41" />
<line x1="582.2" y1="655.4" x2="582.2" y2="685.4" stroke-width="1.41" />
<line x1="628.3" y1="655.4" x2="628.3" y2="685.4" stroke-width="1.41" />
<line x1="674.3" y1="670.6" x2="674.3" y2="685.4" stroke-width="1.41" />
<line x1="351.8" y1="670.6" x2="443.9" y2="670.6" stroke-width="1.41" />
<line x1="628.3" y1="670.6" x2="720.4" y2="670.6" stroke-width="1.41" />
<line x1="31.7" y1="685.4" x2="720.4" y2="685.4" stroke-width="1.66" />
<line x1="75.3" y1="685.4" x2="75.3" y2="852.2" stroke-width="1.41" />
<line x1="121.4" y1="685.4" x2="121.4" y2="852.2" stroke-width="1.41" />
<line x1="167.5" y1="685.4" x2="167.5" y2="852.2" stroke-width="1.41" />
<line x1="213.5" y1="685.4" x2="213.5" y2="852.2" stroke-width="1.41" />
<line x1="259.6" y1="685.4" x2="259.6" y2="852.2" stroke-width="1.41" />
<line x1="305.7" y1="685.4" x2="305.7" y2="852.2" stroke-width="1.41" />
<line x1="351.8" y1="685.4" x2="351.8" y2="852.2" stroke-width="1.41" />
<line x1="397.9" y1="685.4" x2="397.9" y2="852.2" stroke-width="1.41" />
<line x1="443.9" y1="685.4" x2="443.9" y2="852.2" stroke-width="1.41" />
<line x1="490.0" y1="685.4" x2="490.0" y2="852.2" stroke-width="1.41" />
<line x1="536.1" y1="685.4" x2="536.1" y2="852.2" stroke-width="1.41" />
<line x1="582.2" y1="685.4" x2="582.2" y2="852.2" stroke-width="1.41" />
<line x1="628.3" y1="685.4" x2="628.3" y2="852.2" stroke-width="1.41" />
<line x1="674.3" y1="685.4" x2="674.3" y2="852.2" stroke-width="1.41" />
<line x1="31.7" y1="745.6" x2="720.4" y2="745.6" stroke-width="1.66" />
<line x1="75.3" y1="701.0" x2="167.5" y2="701.0" stroke-width="1.41" />
<line x1="213.5" y1="701.0" x2="259.6" y2="701.0" stroke-width="1.41" />
<line x1="75.3" y1="716.3" x2="167.5" y2="716.3" stroke-width="1.41" />
<line x1="213.5" y1="716.3" x2="259.6" y2="716.3" stroke-width="1.41" />
<line x1="75.3" y1="731.7" x2="167.5" y2="731.7" stroke-width="1.41" />
<line x1="213.5" y1="731.7" x2="259.6" y2="731.7" stroke-width="1.41" />
<line x1="75.3" y1="761.5" x2="167.5" y2="761.5" stroke-width="1.41" />
<line x1="213.5" y1="761.5" x2="259.6" y2="761.5" stroke-width="1.41" />
<line x1="75.3" y1="775.8" x2="167.5" y2="775.8" stroke-width="1.41" />
<line x1="213.5" y1="775.8" x2="259.6" y2="775.8" stroke-width="1.41" />
<line x1="75.3" y1="791.0" x2="167.5" y2="791.0" stroke-width="1.41" />
<line x1="213.5" y1="791.0" x2="259.6" y2="791.0" stroke-width="1.41" />
<line x1="75.3" y1="806.4" x2="167.5" y2="806.4" stroke-width="1.41" />
<line x1="213.5" y1="806.4" x2="259.6" y2="806.4" stroke-width="1.41" />
<line x1="75.3" y1="822.0" x2="167.5" y2="822.0" stroke-width="1.41" />
<line x1="213.5" y1="822.0" x2="259.6" y2="822.0" stroke-width="1.41" />
<line x1="75.3" y1="836.7" x2="167.5" y2="836.7" stroke-width="1.41" />
<line x1="213.5" y1="836.7" x2="259.6" y2="836.7" stroke-width="1.41" />
<line x1="167.5" y1="791.0" x2="213.5" y2="791.0" stroke-width="1.41" />
<line x1="259.6" y1="791.0" x2="305.7" y2="791.0" stroke-width="1.41" />
<line x1="259.6" y1="822.0" x2="305.7" y2="822.0" stroke-width="1.41" />
<line x1="259.6" y1="836.7" x2="305.7" y2="836.7" stroke-width="1.41" />
<line x1="305.7" y1="701.0" x2="351.8" y2="701.0" stroke-width="1.41" />
<line x1="305.7" y1="731.7" x2="351.8" y2="731.7" stroke-width="1.41" />
<line x1="305.7" y1="761.5" x2="351.8" y2="761.5" stroke-width="1.41" />
<line x1="305.7" y1="791.0" x2="351.8" y2="791.0" stroke-width="1.41" />
<line x1="305.7" y1="806.4" x2="351.8" y2="806.4" stroke-width="1.41" />
<line x1="305.7" y1="822.0" x2="351.8" y2="822.0" stroke-width="1.41" />
<line x1="305.7" y1="836.7" x2="351.8" y2="836.7" stroke-width="1.41" />
<line x1="351.8" y1="791.0" x2="628.3" y2="791.0" stroke-width="1.41" />
<text x="79.0" y="675.4" font-size="8.6" textLength="36.0" lengthAdjust="spacingAndGlyphs" font-weight="bold" >形状符号</text>
<text x="111.0" y="665.6" font-size="4.2" textLength="7.0" lengthAdjust="spacingAndGlyphs" font-weight="bold" class="hv">※1</text>
<text x="144.4" y="674.5" font-size="11" textLength="31.5" lengthAdjust="spacingAndGlyphs" text-anchor="middle" class="hv">A(H7)</text>
<text x="190.5" y="674.5" font-size="11.2" text-anchor="middle" class="hv">B</text>
<text x="236.6" y="674.5" font-size="11.2" text-anchor="middle" class="hv">C</text>
<text x="282.7" y="674.5" font-size="11.2" text-anchor="middle" class="hv">D</text>
<text x="328.7" y="674.5" font-size="11.2" text-anchor="middle" class="hv">E</text>
<text x="467.0" y="674.5" font-size="11.2" text-anchor="middle" class="hv">G</text>
<text x="513.1" y="674.5" font-size="11.2" text-anchor="middle" class="hv">H</text>
<text x="559.1" y="674.5" font-size="11.2" text-anchor="middle" class="hv">K</text>
<text x="605.2" y="674.5" font-size="11.2" text-anchor="middle" class="hv">M</text>
<text x="397.9" y="667.2" font-size="10.6" textLength="33.6" lengthAdjust="spacingAndGlyphs" text-anchor="middle" >F(H7)</text>
<text x="374.8" y="682.4" font-size="10.4" textLength="16.6" lengthAdjust="spacingAndGlyphs" text-anchor="middle" >Min</text>
<text x="420.9" y="682.4" font-size="10.4" textLength="20.6" lengthAdjust="spacingAndGlyphs" text-anchor="middle" >Max</text>
<text x="651.9" y="666.8" font-size="8.8" textLength="17.6" lengthAdjust="spacingAndGlyphs" font-weight="bold" >重量</text>
<text x="669.9" y="666.8" font-size="8.8" textLength="19.0" lengthAdjust="spacingAndGlyphs" >(kg)</text>
<text x="691.3" y="664.0" font-size="4.8" textLength="8.0" lengthAdjust="spacingAndGlyphs" font-weight="bold" class="hv">※3</text>
<text x="651.3" y="682.3" font-size="8.6" textLength="31.0" lengthAdjust="spacingAndGlyphs" text-anchor="middle" font-weight="bold" >轴输出</text>
<text x="697.4" y="682.3" font-size="8.6" textLength="40.0" lengthAdjust="spacingAndGlyphs" text-anchor="middle" font-weight="bold" >法兰输出</text>
<text x="80.8" y="697.6" font-size="10.8" textLength="15.2" lengthAdjust="spacingAndGlyphs" >CB</text>
<text x="96.2" y="698.1" font-size="11.6" textLength="20.8" lengthAdjust="spacingAndGlyphs" style="font-family:'Noto Sans CJK SC',sans-serif">□□</text>
<text x="144.4" y="697.7" font-size="11" text-anchor="middle" >114.3</text>
<text x="236.6" y="697.7" font-size="11" text-anchor="middle" >200</text>
<text x="80.8" y="713.0" font-size="10.8" textLength="15.2" lengthAdjust="spacingAndGlyphs" >CG</text>
<text x="96.2" y="713.5" font-size="11.6" textLength="20.8" lengthAdjust="spacingAndGlyphs" style="font-family:'Noto Sans CJK SC',sans-serif">□□</text>
<text x="144.4" y="713.1" font-size="11" text-anchor="middle" >180</text>
<text x="236.6" y="713.1" font-size="11" text-anchor="middle" >215</text>
<text x="80.8" y="728.4" font-size="10.8" textLength="15.2" lengthAdjust="spacingAndGlyphs" >CC</text>
<text x="96.2" y="728.9" font-size="11.6" textLength="20.8" lengthAdjust="spacingAndGlyphs" style="font-family:'Noto Sans CJK SC',sans-serif">□□</text>
<text x="144.4" y="728.5" font-size="11" text-anchor="middle" >200</text>
<text x="236.6" y="728.5" font-size="11" text-anchor="middle" >235</text>
<text x="80.8" y="743.1" font-size="10.8" textLength="13.0" lengthAdjust="spacingAndGlyphs" >CJ</text>
<text x="94.2" y="743.6" font-size="11.6" textLength="22.6" lengthAdjust="spacingAndGlyphs" style="font-family:'Noto Sans CJK SC',sans-serif">□□</text>
<text x="144.4" y="743.2" font-size="11" text-anchor="middle" >230</text>
<text x="236.6" y="743.2" font-size="11" text-anchor="middle" >265</text>
<text x="80.8" y="757.9" font-size="10.8" textLength="15.2" lengthAdjust="spacingAndGlyphs" >CB</text>
<text x="96.2" y="758.4" font-size="11.6" textLength="20.8" lengthAdjust="spacingAndGlyphs" style="font-family:'Noto Sans CJK SC',sans-serif">□□</text>
<text x="144.4" y="758.0" font-size="11" text-anchor="middle" >114.3</text>
<text x="236.6" y="758.0" font-size="11" text-anchor="middle" >200</text>
<text x="80.8" y="773.0" font-size="10.8" textLength="15.2" lengthAdjust="spacingAndGlyphs" >CG</text>
<text x="96.2" y="773.5" font-size="11.6" textLength="20.8" lengthAdjust="spacingAndGlyphs" style="font-family:'Noto Sans CJK SC',sans-serif">□□</text>
<text x="144.4" y="773.1" font-size="11" text-anchor="middle" >180</text>
<text x="236.6" y="773.1" font-size="11" text-anchor="middle" >215</text>
<text x="80.8" y="787.8" font-size="10.8" textLength="15.2" lengthAdjust="spacingAndGlyphs" >CC</text>
<text x="96.2" y="788.3" font-size="11.6" textLength="20.8" lengthAdjust="spacingAndGlyphs" style="font-family:'Noto Sans CJK SC',sans-serif">□□</text>
<text x="144.4" y="787.9" font-size="11" text-anchor="middle" >200</text>
<text x="236.6" y="787.9" font-size="11" text-anchor="middle" >235</text>
<text x="80.8" y="803.1" font-size="10.8" textLength="15.2" lengthAdjust="spacingAndGlyphs" >BB</text>
<text x="96.2" y="803.6" font-size="11.6" textLength="20.8" lengthAdjust="spacingAndGlyphs" style="font-family:'Noto Sans CJK SC',sans-serif">□□</text>
<text x="144.4" y="803.2" font-size="11" text-anchor="middle" >114.3</text>
<text x="236.6" y="803.2" font-size="11" text-anchor="middle" >200</text>
<text x="80.8" y="818.6" font-size="10.8" textLength="15.2" lengthAdjust="spacingAndGlyphs" >BC</text>
<text x="96.2" y="819.1" font-size="11.6" textLength="20.8" lengthAdjust="spacingAndGlyphs" style="font-family:'Noto Sans CJK SC',sans-serif">□□</text>
<text x="144.4" y="818.7" font-size="11" text-anchor="middle" >200</text>
<text x="236.6" y="818.7" font-size="11" text-anchor="middle" >235</text>
<text x="80.8" y="833.8" font-size="10.8" textLength="15.2" lengthAdjust="spacingAndGlyphs" >BF</text>
<text x="96.2" y="834.2" font-size="11.6" textLength="20.8" lengthAdjust="spacingAndGlyphs" style="font-family:'Noto Sans CJK SC',sans-serif">□□</text>
<text x="144.4" y="833.9" font-size="11" text-anchor="middle" >130</text>
<text x="236.6" y="833.9" font-size="11" text-anchor="middle" >165</text>
<text x="80.8" y="848.9" font-size="10.8" textLength="15.2" lengthAdjust="spacingAndGlyphs" >BA</text>
<text x="96.2" y="849.4" font-size="11.6" textLength="20.8" lengthAdjust="spacingAndGlyphs" style="font-family:'Noto Sans CJK SC',sans-serif">□□</text>
<text x="144.4" y="849.0" font-size="11" text-anchor="middle" >110</text>
<text x="236.6" y="849.0" font-size="11" text-anchor="middle" >145</text>
<text x="190.5" y="720.0" font-size="11" text-anchor="middle" >10</text>
<text x="190.5" y="772.8" font-size="11" text-anchor="middle" >10</text>
<text x="190.5" y="826.1" font-size="11" text-anchor="middle" >6.5</text>
<text x="282.7" y="720.0" font-size="9.6" textLength="37.0" lengthAdjust="spacingAndGlyphs" text-anchor="middle" >M12×25</text>
<text x="282.7" y="772.8" font-size="9.6" textLength="37.0" lengthAdjust="spacingAndGlyphs" text-anchor="middle" >M12×25</text>
<text x="282.7" y="811.0" font-size="9.6" textLength="37.0" lengthAdjust="spacingAndGlyphs" text-anchor="middle" >M12×25</text>
<text x="282.7" y="833.9" font-size="9.6" textLength="37.0" lengthAdjust="spacingAndGlyphs" text-anchor="middle" >M10×25</text>
<text x="282.7" y="849.0" font-size="9.6" textLength="32.0" lengthAdjust="spacingAndGlyphs" text-anchor="middle" >M8×25</text>
<text x="313.5" y="698.2" font-size="11.6" style="font-family:'Noto Sans CJK SC',sans-serif">□</text>
<text x="324.3" y="697.7" font-size="11" textLength="18.2" lengthAdjust="spacingAndGlyphs" >180</text>
<text x="313.5" y="721.4" font-size="11.6" style="font-family:'Noto Sans CJK SC',sans-serif">□</text>
<text x="324.3" y="720.9" font-size="11" textLength="18.2" lengthAdjust="spacingAndGlyphs" >220</text>
<text x="313.5" y="743.7" font-size="11.6" style="font-family:'Noto Sans CJK SC',sans-serif">□</text>
<text x="324.3" y="743.2" font-size="11" textLength="18.2" lengthAdjust="spacingAndGlyphs" >250</text>
<text x="313.5" y="758.5" font-size="11.6" style="font-family:'Noto Sans CJK SC',sans-serif">□</text>
<text x="324.3" y="758.0" font-size="11" textLength="18.2" lengthAdjust="spacingAndGlyphs" >180</text>
<text x="313.5" y="781.2" font-size="11.6" style="font-family:'Noto Sans CJK SC',sans-serif">□</text>
<text x="324.3" y="780.8" font-size="11" textLength="18.2" lengthAdjust="spacingAndGlyphs" >220</text>
<text x="313.5" y="803.7" font-size="11.6" style="font-family:'Noto Sans CJK SC',sans-serif">□</text>
<text x="324.3" y="803.2" font-size="11" textLength="18.2" lengthAdjust="spacingAndGlyphs" >180</text>
<text x="313.5" y="819.2" font-size="11.6" style="font-family:'Noto Sans CJK SC',sans-serif">□</text>
<text x="324.3" y="818.7" font-size="11" textLength="18.2" lengthAdjust="spacingAndGlyphs" >220</text>
<text x="313.5" y="834.4" font-size="11.6" style="font-family:'Noto Sans CJK SC',sans-serif">□</text>
<text x="324.3" y="833.9" font-size="11" textLength="18.2" lengthAdjust="spacingAndGlyphs" >180</text>
<text x="313.5" y="849.5" font-size="11.6" style="font-family:'Noto Sans CJK SC',sans-serif">□</text>
<text x="324.3" y="849.0" font-size="11" textLength="18.2" lengthAdjust="spacingAndGlyphs" >130</text>
<text x="363.4" y="720.0" font-size="11" textLength="12.2" lengthAdjust="spacingAndGlyphs" >35</text>
<text x="377.2" y="716.8" font-size="5.6" textLength="10.4" lengthAdjust="spacingAndGlyphs" font-weight="bold" class="hv">※2</text>
<text x="363.4" y="772.8" font-size="11" textLength="12.2" lengthAdjust="spacingAndGlyphs" >35</text>
<text x="377.2" y="769.6" font-size="5.6" textLength="10.4" lengthAdjust="spacingAndGlyphs" font-weight="bold" class="hv">※2</text>
<text x="374.8" y="826.1" font-size="11" text-anchor="middle" >19</text>
<text x="420.9" y="720.0" font-size="11" text-anchor="middle" >55</text>
<text x="420.9" y="772.8" font-size="11" text-anchor="middle" >55</text>
<text x="409.5" y="826.1" font-size="11" textLength="12.2" lengthAdjust="spacingAndGlyphs" >35</text>
<text x="423.3" y="822.9" font-size="5.6" textLength="10.4" lengthAdjust="spacingAndGlyphs" font-weight="bold" class="hv">※2</text>
<text x="467.0" y="720.0" font-size="11" text-anchor="middle" >113</text>
<text x="467.0" y="772.8" font-size="11" text-anchor="middle" >113</text>
<text x="467.0" y="826.1" font-size="11" text-anchor="middle" >84</text>
<text x="513.1" y="720.0" font-size="11" text-anchor="middle" >241.5</text>
<text x="513.1" y="772.8" font-size="11" text-anchor="middle" >311.5</text>
<text x="513.1" y="826.1" font-size="11" text-anchor="middle" >288</text>
<text x="559.1" y="720.0" font-size="11" text-anchor="middle" >91</text>
<text x="559.1" y="772.8" font-size="11" text-anchor="middle" >161</text>
<text x="559.1" y="826.1" font-size="11" text-anchor="middle" >170</text>
<text x="605.2" y="720.0" font-size="11" text-anchor="middle" >150.5</text>
<text x="605.2" y="772.8" font-size="11" text-anchor="middle" >150.5</text>
<text x="605.2" y="826.1" font-size="11" text-anchor="middle" >118</text>
<text x="651.3" y="720.0" font-size="11" text-anchor="middle" >48</text>
<text x="697.4" y="720.0" font-size="11" text-anchor="middle" >38</text>
<text x="651.3" y="803.4" font-size="11" text-anchor="middle" >52</text>
<text x="697.4" y="803.4" font-size="11" text-anchor="middle" >42</text>
<text x="635.6" y="650.8" font-size="7.6" textLength="46.4" lengthAdjust="spacingAndGlyphs" >(单位: mm)</text>
<text x="691.0" y="650.8" font-size="5.6" textLength="27.0" lengthAdjust="spacingAndGlyphs" font-weight="bold" >表057-1</text>
</svg>
<div class="vt" style="left:39.1px;top:694.6px;">单级减速型</div>
<div class="vt" style="left:52.5px;top:682.4px;letter-spacing:0.7px;">（减速比＝4·5）</div>
<div class="vt" style="left:39.2px;top:782.2px;">双级减速型</div>
<div class="vt" style="left:52.8px;top:751.9px;letter-spacing:-0.05px;">（减速比＝<span>12</span>·<span>15</span>·<span>20</span>·<span>25</span>）</div>
</body>
</html>
